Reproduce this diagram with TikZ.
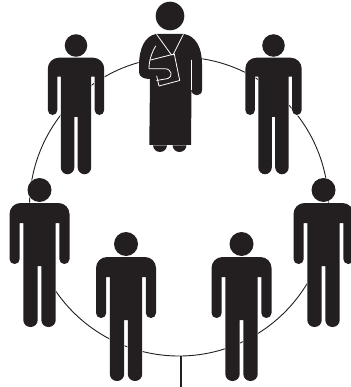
\documentclass[tikz,border=0pt]{standalone}
\usepackage{xcolor}
\usepackage{tikz}
\definecolor{ink}{HTML}{231F20}

\begin{document}
\begin{tikzpicture}[
    x=1pt, y=-1pt,
    ring/.style={draw=ink, line width=0.9pt},
    stem/.style={draw=ink, line width=1.6pt},
    solid figure/.style={fill=ink, preaction={draw=white, line width=1pt}},
    cut/.style={draw=white, line width=0.8pt, line cap=round, line join=round},
    person/.pic={
        \path[solid figure] (0,0) circle[radius=12];
        \path[solid figure] (-19.8,33) [rounded corners=5] -- (-19.8,74) -- (-30,74) [rounded corners=11] -- (-30,13) -- (30,13) [rounded corners=5] -- (30,74) -- (19.8,74) [sharp corners] -- (19.8,33) -- (16.2,33) [rounded corners=7] -- (16.2,137) -- (1.8,137) [sharp corners] -- (1.8,76) -- (-1.8,76) [rounded corners=7] -- (-1.8,137) -- (-16.2,137) [sharp corners] -- (-16.2,33) -- cycle;
    }
]
\useasboundingbox (0,0) rectangle (350,387);
\fill[white] (0,0) rectangle (350,387);
\node[circle, ring, minimum size=299pt, inner sep=0pt] (ring) at (179,206.5) {};
\coordinate (stemend) at (181,387);
\draw[stem] (ring.south) ++(2,0) coordinate (stemtop) -- (stemend);
\pic (upleft) at (76,45.5) [scale=0.94] {person};
\pic (upright) at (273.5,45.5) [scale=0.94] {person};
\pic (left) at (39.5,190) {person};
\pic (right) at (323.5,190) {person};
\pic (lowleft) at (126,244) {person};
\pic (lowright) at (241.5,244) {person};
% robed figure in the middle
\path[solid figure] (170,16) circle[radius=14.3];
\path[solid figure] (160,145) ellipse[x radius=7, y radius=7];
\path[solid figure] (179.5,145) ellipse[x radius=7, y radius=7];
\path[solid figure] (156,34) .. controls (145,36) and (139,48) .. (139,66) -- (139,72) .. controls (139,77) and (144,79) .. (150,79) -- (149.3,145) -- (191,145) -- (191.5,90) .. controls (191.5,97) and (202,97) .. (202,90) -- (202,64) .. controls (202,48) and (196,36) .. (184,34) -- cycle;
\draw[cut, line width=0.4pt] (191.5,60) -- (191.5,90);
\draw[cut] (156.7,34.5) -- (171.5,55);
\draw[cut] (183.3,34.5) -- (173,55);
\draw[cut] (150.5,60) -- (174.3,54) -- (179.7,80.5) -- (159,86) -- (156.7,76);
\draw[cut] (155.7,46) .. controls (152,52) and (149,60) .. (149,68.7) -- (165,68.7) .. controls (172,69) and (173,77) .. (168,78.5) -- (156.7,80.5);
\end{tikzpicture}
\end{document}
